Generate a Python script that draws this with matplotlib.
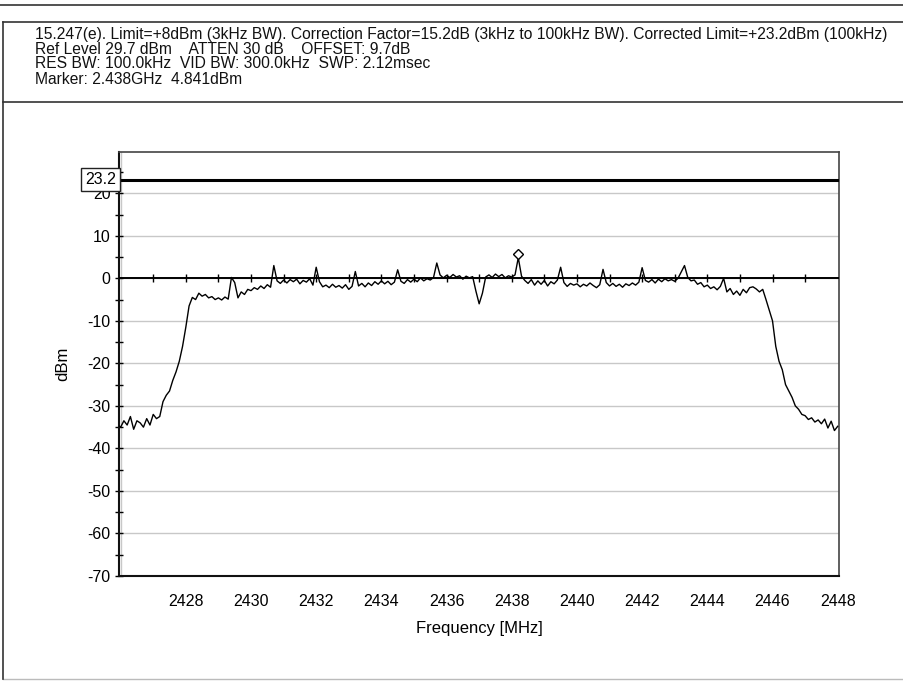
import numpy as np
import matplotlib
matplotlib.use("Agg")
import matplotlib.pyplot as plt
from matplotlib.lines import Line2D

plt.rcParams['font.family'] = ['Liberation Sans', 'DejaVu Sans']
plt.rcParams['axes.unicode_minus'] = False

# Sweep settings (MHz)
freq_start = 2425.9
freq_step = 0.1

# Trace level in dBm, one value per sweep point
levels = [
    -34.5,
    -35.0, -33.5, -34.5, -32.5, -35.5, -33.5, -34.0, -35.0, -33.0, -34.5,   # 2426
    -32.0, -33.0, -32.5, -29.0, -27.5, -26.5, -24.0, -22.0, -19.5, -16.0,   # 2427
    -11.5, -6.5, -4.5, -5.0, -3.5, -4.2, -3.8, -4.6, -4.3, -5.0,            # 2428
    -4.6, -5.1, -4.4, -4.9, 0.2, -1.0, -4.6, -3.2, -3.8, -2.6,              # 2429
    -2.9, -2.2, -2.6, -1.8, -2.4, -1.5, -2.1, 3.0, -0.6, -1.2,              # 2430
    -0.4, -1.1, -0.3, -0.8, -0.2, -1.3, -0.5, -0.9, -0.1, -1.6,             # 2431
    2.6, -0.8, -2.0, -1.6, -2.2, -1.4, -2.1, -1.7, -2.3, -1.5,              # 2432
    -2.6, -1.9, 1.6, -1.8, -1.2, -2.0, -1.1, -1.7, -0.8, -1.4,              # 2433
    -0.6, -1.3, -0.7, -1.5, -0.9, 2.0, -0.7, -1.2, -0.3, -0.9,              # 2434
    -0.2, -0.8, 0.1, -0.6, -0.1, -0.4, 0.2, 3.6, 0.8, 0.1,                  # 2435
    0.7, 0.2, 0.9, 0.3, 0.6, -0.2, 0.5, 0.1, 0.4, -3.0,                     # 2436
    -6.0, -3.5, 0.3, 0.8, 0.2, 1.0, 0.4, 0.9, 0.1, 0.6,                     # 2437
    0.3, 0.8, 4.84, 0.5, -0.5, -1.2, -0.3, -1.6, -0.6, -1.4,                # 2438
    -0.5, -1.8, -0.8, -1.3, -0.4, 2.6, -1.0, -1.9, -1.2, -1.6,              # 2439
    -1.3, -2.0, -1.4, -1.8, -1.1, -1.7, -2.2, -1.5, 2.1, -1.0,              # 2440
    -1.8, -1.2, -1.9, -1.4, -2.1, -1.3, -1.7, -1.1, -1.6, -0.9,             # 2441
    2.5, -0.5, -0.9, -0.3, -1.1, -0.2, -0.8, -0.1, -0.6, -0.3,              # 2442
    -0.7, 0.0, 1.5, 3.0, 0.2, -0.6, -0.4, -1.4, -1.0, -2.0,                 # 2443
    -1.6, -2.4, -2.0, -2.7, -1.9, 0.0, -3.2, -2.4, -3.8, -3.0,              # 2444
    -4.0, -2.6, -3.4, -2.2, -2.0, -2.5, -3.2, -2.6, -5.0, -7.5,             # 2445
    -10.0, -16.0, -19.5, -21.5, -25.0, -26.5, -28.0, -30.0, -30.8, -32.0,   # 2446
    -32.3, -33.2, -32.8, -33.8, -33.3, -34.2, -33.1, -35.2, -33.6, -35.8,   # 2447
    -34.8,
]
freqs = freq_start + freq_step * np.arange(len(levels))

marker_freq = 2438.2
marker_level = 4.841
limit_level = 23.2

header_lines = [
    "15.247(e). Limit=+8dBm (3kHz BW). Correction Factor=15.2dB (3kHz to 100kHz BW). Corrected Limit=+23.2dBm (100kHz)",
    "Ref Level 29.7 dBm    ATTEN 30 dB    OFFSET: 9.7dB",
    "RES BW: 100.0kHz  VID BW: 300.0kHz  SWP: 2.12msec",
    "Marker: 2.438GHz  4.841dBm",
]
x_ticks = [2428, 2430, 2432, 2434, 2436, 2438, 2440, 2442, 2444, 2446, 2448]
y_ticks = [-70, -60, -50, -40, -30, -20, -10, 0, 10, 20]

W, H = 904, 683
fig = plt.figure(figsize=(W / 100, H / 100), dpi=100)


def fx(px):
    return px / W


def fy(py):
    return 1 - py / H


# frame lines around header and plot
def hline(y, x0, x1, color='#333333', lw=1.2):
    fig.add_artist(Line2D([fx(x0), fx(x1)], [fy(y), fy(y)], color=color, lw=lw))


def vline(x, y0, y1, color='#333333', lw=1.2):
    fig.add_artist(Line2D([fx(x), fx(x)], [fy(y0), fy(y1)], color=color, lw=lw))


hline(5, 0, 904)
hline(22, 3, 904)
hline(102, 3, 904)
hline(679, 3, 904, color='#bbbbbb', lw=1)
vline(3, 22, 679)

# header text
hdr_y = [34, 49, 64, 79]
texts = []
for line, y in zip(header_lines, hdr_y):
    texts.append(fig.text(fx(35), fy(y), line, fontsize=10, va='center', ha='left', color='#111111'))

# fit first line to its width in the picture
fig.canvas.draw()
w = texts[0].get_window_extent().width
scale = 858 / w
for t in texts:
    t.set_fontsize(10 * scale)

# axes
ax = fig.add_axes([fx(119), fy(576), (839 - 119) / W, (576 - 152) / H])
ax.set_xlim(2425.95, 2448.04)
ax.set_ylim(-70, 29.7)

ax.set_xticks(x_ticks)
ax.set_xticks(np.arange(2426, 2449, 2), minor=True)
ax.set_yticks(y_ticks)
ax.set_yticks(np.arange(-65, 30, 5), minor=True)
ax.tick_params(axis='x', which='both', length=0, pad=13, labelsize=11.5)
ax.tick_params(axis='y', which='major', direction='inout', length=6, width=1, pad=3, labelsize=11.5)
ax.tick_params(axis='y', which='minor', direction='inout', length=6, width=1)

ax.grid(True, which='minor', axis='x', color='#c8c8c8', lw=1)
ax.grid(True, which='major', axis='y', color='#c8c8c8', lw=1)
ax.set_axisbelow(True)

for side in ['left', 'bottom']:
    ax.spines[side].set_linewidth(1.5)
    ax.spines[side].set_color('#111111')
for side in ['top', 'right']:
    ax.spines[side].set_linewidth(1.2)
    ax.spines[side].set_color('#444444')

# 0 dBm reference line with 1 MHz ticks
ax.axhline(0, color='black', lw=1.4, zorder=3)
mhz = np.arange(2427, 2448)
ax.plot(mhz, np.zeros(len(mhz)), ls='none', marker='|', ms=6, mew=1, color='black', zorder=3)

# limit line
ax.axhline(limit_level, color='black', lw=2.2, zorder=3)
ax.text(-0.004, limit_level, "23.2", transform=ax.get_yaxis_transform(), ha='right', va='center',
        fontsize=11.5, zorder=5,
        bbox=dict(boxstyle='square,pad=0.25', fc='white', ec='#222222', lw=1))

# trace
ax.plot(freqs, levels, color='black', lw=1, zorder=4)
ax.plot([marker_freq], [marker_level + 0.8], marker='D', ms=5.5, mfc='white', mec='black', mew=1,
        ls='none', zorder=5)

ax.set_xlabel("Frequency [MHz]", fontsize=12)
ax.set_ylabel("dBm", fontsize=12)
ax.xaxis.set_label_coords(0.5, (576 - 621) / 424)
ax.yaxis.set_label_coords((70 - 119) / 720, 0.5)

fig.savefig("out.png", dpi=100)
